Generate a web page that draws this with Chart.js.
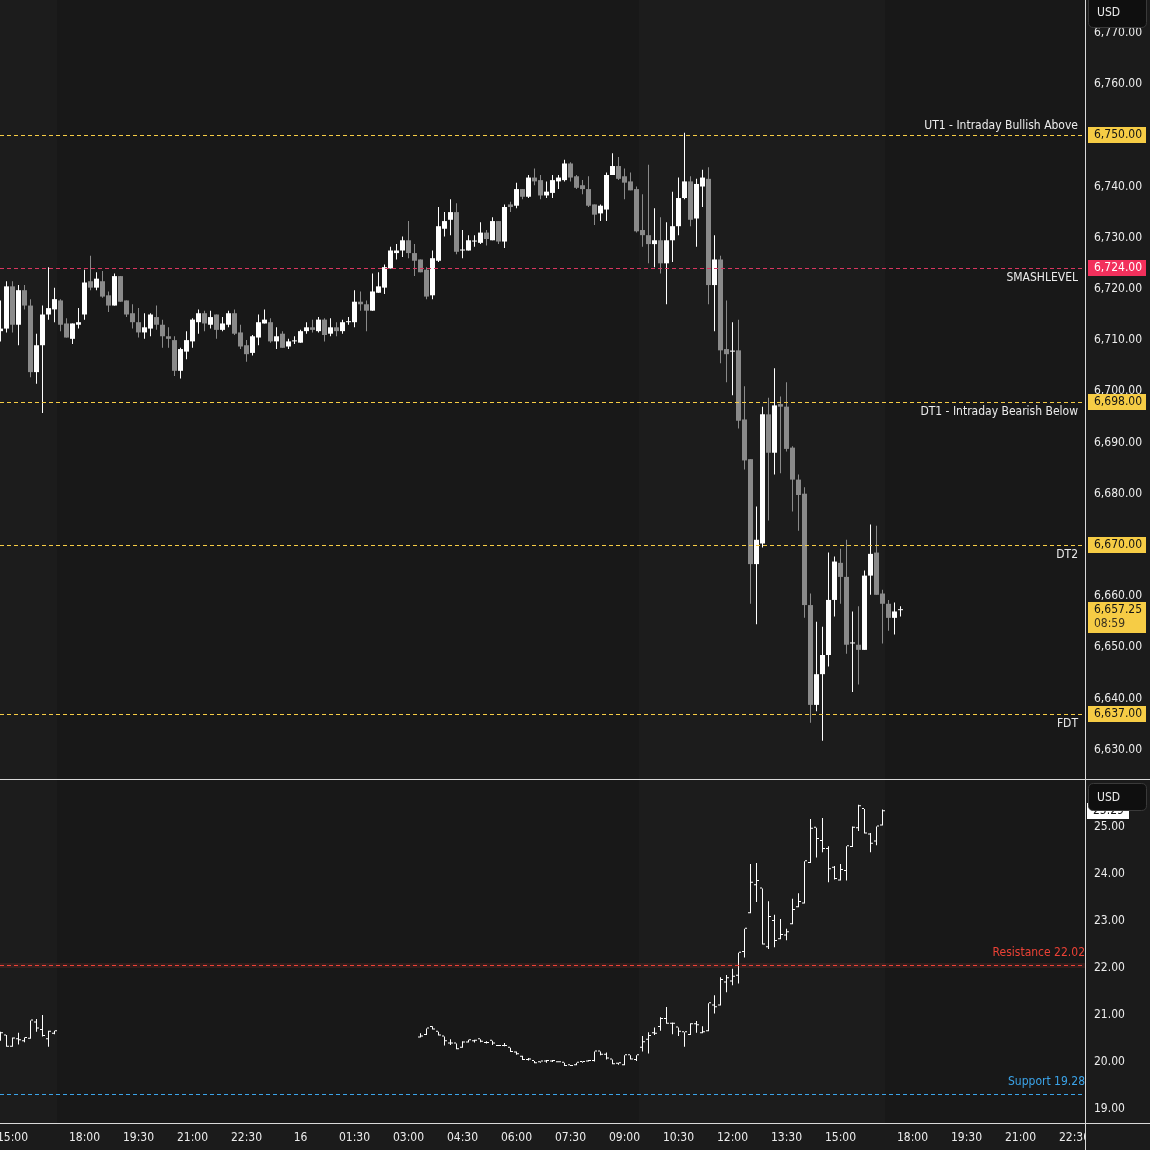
<!DOCTYPE html>
<html>
<head>
<meta charset="utf-8">
<script src="https://cdn.jsdelivr.net/npm/chart.js@4.4.1/dist/chart.umd.min.js"></script>
<style>
  html, body { margin:0; padding:0; background:#181818; }
  body { width:1150px; height:1150px; position:relative; overflow:hidden; }
  #pTop { position:absolute; left:0; top:0; }
  #pBot { position:absolute; left:0; top:780px; }
</style>
</head>
<body>
<canvas id="pTop" width="1150" height="780"></canvas>
<canvas id="pBot" width="1150" height="370"></canvas>
<script>
// ---------------- DATA ----------------
// 10-minute ES bars; first bar sits in time slot -2 (slot 0 = 15:00, slot 12 = 18:00 after the break)
const ES_FIRST_SLOT = -2;
const esOpen = [
 6711.75,6712.25,6720.5,6713.0,6719.75,6716.75,6703.75,6709.0,6715.0,6716.0,
 6717.75,6713.25,6710.25,6713.0,6715.0,6721.5,6720.25,6721.5,6718.75,6716.75,
 6722.5,6717.75,6715.25,6713.5,6711.5,6712.25,6714.5,6713.0,6710.75,6710.0,
 6704.0,6707.75,6709.75,6713.5,6715.25,6713.0,6715.0,6712.0,6713.0,6715.25,
 6711.5,6709.0,6707.5,6710.5,6713.25,6713.5,6709.75,6711.25,6708.75,6709.75,
 6709.5,6711.75,6712.5,6711.75,6714.0,6711.25,6712.5,6711.75,6713.5,6713.5,
 6717.5,6717.0,6715.75,6719.25,6720.25,6724.0,6727.0,6727.5,6729.5,6727.0,
 6725.75,6723.75,6718.75,6725.5,6731.75,6733.5,6735.0,6727.5,6727.5,6729.25,
 6729.0,6731.0,6729.5,6733.25,6729.25,6736.5,6736.25,6739.5,6738.0,6741.75,
 6741.25,6738.25,6738.75,6741.0,6741.25,6744.5,6742.0,6740.25,6739.5,6736.5,
 6734.75,6735.5,6742.25,6744.0,6742.0,6741.0,6739.5,6731.5,6730.5,6728.75,
 6729.5,6725.0,6729.5,6732.25,6737.75,6741.0,6733.75,6740.0,6741.5,6720.75,
 6725.75,6708.25,6707.75,6708.0,6694.5,6686.75,6666.25,6670.25,6695.5,6688.0,
 6697.5,6697.0,6689.0,6682.75,6680.0,6658.25,6638.75,6644.75,6648.5,6659.25,
 6666.5,6663.75,6650.75,6650.5,6649.5,6664.0,6668.5,6660.5,6658.5,6655.75,
 6657.25];
const esHigh = [
 6717.75,6721.5,6721.5,6720.75,6720.75,6718.0,6711.25,6716.75,6724.25,6720.25,
 6718.0,6714.25,6713.25,6716.25,6723.75,6726.5,6723.25,6723.5,6719.5,6723.0,
 6722.5,6717.75,6717.0,6716.25,6715.25,6715.25,6716.75,6714.0,6712.5,6710.75,
 6708.5,6711.75,6714.25,6716.0,6715.75,6715.75,6715.0,6714.5,6715.75,6716.0,
 6713.0,6710.0,6711.0,6715.0,6716.0,6714.25,6712.5,6711.75,6710.25,6710.75,
 6712.0,6713.5,6714.0,6714.5,6714.25,6714.25,6713.5,6714.0,6714.5,6719.75,
 6719.5,6717.75,6723.0,6723.25,6724.75,6728.25,6728.75,6730.25,6733.25,6728.75,
 6725.75,6724.25,6727.5,6736.0,6735.0,6737.5,6736.75,6731.5,6730.5,6730.5,
 6733.0,6731.5,6734.0,6733.25,6736.5,6737.0,6740.75,6739.5,6742.25,6743.5,
 6742.25,6741.0,6742.25,6742.25,6745.25,6744.75,6742.25,6741.25,6742.0,6736.5,
 6736.5,6742.75,6746.5,6745.75,6743.5,6742.75,6740.0,6738.5,6744.25,6735.75,
 6734.0,6733.0,6739.0,6741.75,6750.5,6742.0,6741.5,6743.25,6743.75,6730.5,
 6726.5,6717.75,6713.5,6714.0,6701.0,6686.75,6677.5,6697.0,6698.75,6704.5,
 6699.0,6701.75,6689.25,6683.75,6681.25,6660.5,6655.0,6654.0,6668.5,6667.75,
 6669.25,6671.0,6657.0,6658.0,6665.0,6674.0,6673.75,6661.25,6659.25,6658.75,
 6658.0];
const esLow = [
 6709.75,6711.5,6711.5,6709.0,6716.0,6702.75,6701.5,6695.75,6714.0,6713.5,
 6711.75,6710.5,6709.25,6712.25,6714.0,6719.75,6719.75,6718.25,6715.5,6716.75,
 6717.5,6714.5,6712.25,6710.5,6710.25,6710.75,6712.0,6708.5,6708.5,6703.0,
 6702.5,6706.25,6708.5,6711.25,6711.75,6712.25,6710.25,6711.75,6712.5,6711.0,
 6708.25,6705.75,6707.0,6709.0,6713.25,6709.5,6708.25,6708.5,6708.25,6709.25,
 6709.5,6711.25,6711.5,6711.5,6709.75,6710.75,6710.75,6711.25,6713.0,6712.5,
 6715.75,6711.75,6715.75,6719.25,6719.0,6724.0,6725.75,6726.25,6726.0,6722.5,
 6723.25,6718.0,6718.0,6725.25,6730.25,6730.5,6726.75,6726.0,6727.5,6728.25,
 6728.75,6728.5,6729.5,6728.75,6728.0,6735.0,6735.75,6737.5,6737.75,6740.25,
 6737.5,6737.75,6737.75,6739.5,6741.0,6741.0,6739.5,6738.5,6736.0,6732.5,
 6733.25,6733.25,6742.25,6741.25,6737.5,6739.25,6731.0,6728.25,6725.0,6724.25,
 6723.0,6717.0,6725.25,6730.5,6737.5,6732.25,6728.25,6736.0,6717.0,6711.75,
 6705.5,6701.75,6699.25,6692.75,6684.75,6658.5,6654.5,6669.5,6674.75,6683.75,
 6684.0,6688.25,6676.5,6672.75,6655.75,6635.25,6637.5,6631.75,6646.25,6656.0,
 6658.5,6648.75,6641.25,6642.75,6649.5,6660.25,6660.25,6650.75,6653.25,6652.5,
 6656.0];
const esClose = [
 6712.25,6720.5,6713.0,6719.75,6716.75,6703.75,6709.0,6715.0,6716.25,6718.0,
 6713.0,6710.5,6713.25,6713.5,6721.25,6720.25,6722.0,6718.5,6716.75,6722.5,
 6717.5,6715.0,6713.5,6711.5,6712.5,6715.0,6713.0,6710.75,6710.25,6704.0,
 6708.25,6710.0,6714.0,6715.25,6713.25,6714.5,6712.0,6713.25,6715.25,6711.25,
 6708.75,6707.25,6710.75,6713.5,6714.0,6709.75,6710.75,6708.5,6709.75,6709.75,
 6711.75,6712.5,6712.0,6714.0,6711.0,6712.5,6711.75,6713.5,6713.5,6717.5,
 6717.0,6715.75,6719.5,6720.5,6724.25,6727.5,6727.5,6729.5,6727.0,6725.5,
 6723.25,6718.5,6726.0,6732.25,6733.25,6735.0,6727.25,6727.5,6729.5,6729.25,
 6731.0,6729.75,6733.25,6729.25,6736.0,6736.0,6739.5,6738.0,6741.75,6741.0,
 6738.25,6739.0,6741.25,6741.75,6744.5,6741.75,6739.75,6739.5,6736.25,6734.5,
 6736.25,6742.25,6744.0,6741.5,6740.75,6739.25,6731.25,6730.5,6728.75,6729.5,
 6725.0,6729.5,6732.25,6737.75,6741.0,6733.5,6740.5,6741.75,6720.75,6725.75,
 6708.0,6707.25,6707.75,6694.25,6686.5,6666.25,6671.0,6695.5,6688.0,6697.25,
 6697.0,6688.75,6682.75,6679.75,6658.25,6638.75,6644.75,6648.5,6659.25,6666.75,
 6663.75,6650.5,6650.75,6649.5,6664.0,6668.25,6660.25,6658.5,6655.75,6657.0,
 6657.25];

// VIX 10-minute bars: two runs of slots [first slot, bar count]
const VIX_RUNS = [[-2, 10], [68, 78]];
const vixOpen = [
 20.58,20.52,20.28,20.44,20.40,20.45,20.80,20.64,20.44,20.56,
 20.48,20.53,20.70,20.60,20.50,20.35,20.35,20.26,20.37,20.40,
 20.44,20.36,20.41,20.30,20.30,20.26,20.16,20.07,20.00,19.98,
 19.95,19.97,19.97,19.95,19.94,19.89,19.89,19.96,19.97,19.98,
 20.18,20.11,20.01,19.92,19.89,20.10,20.00,20.26,20.43,20.57,
 20.70,20.87,20.77,20.69,20.59,20.53,20.76,20.57,20.61,21.16,
 21.16,21.65,21.67,21.79,22.30,23.12,23.72,23.65,22.40,22.96,
 22.57,22.65,22.89,23.25,23.33,24.19,24.94,24.66,24.49,24.09,
 23.82,24.02,24.53,24.93,25.34,24.80,24.65,24.99];
const vixHigh = [
 20.60,20.53,20.48,20.58,20.48,20.84,20.87,20.96,20.62,20.62,
 20.57,20.67,20.72,20.60,20.50,20.44,20.35,20.40,20.43,20.43,
 20.44,20.40,20.41,20.30,20.36,20.26,20.18,20.09,20.04,19.98,
 19.97,20.00,20.00,19.95,19.94,19.89,19.94,19.97,20.00,20.18,
 20.18,20.16,20.01,19.94,20.10,20.10,20.10,20.51,20.59,20.69,
 20.91,21.13,20.80,20.69,20.59,20.78,20.83,20.72,21.21,21.38,
 21.76,21.81,21.94,22.28,22.79,24.17,24.19,23.65,23.38,23.09,
 23.00,22.79,23.43,23.55,24.23,25.13,24.94,25.15,24.55,24.13,
 24.17,24.55,24.97,25.43,25.34,24.83,24.97,25.33];
const vixLow = [
 20.41,20.28,20.28,20.33,20.38,20.45,20.60,20.50,20.28,20.55,
 20.48,20.53,20.65,20.52,20.31,20.32,20.23,20.26,20.37,20.37,
 20.38,20.35,20.32,20.30,20.29,20.17,20.11,20.00,19.99,19.93,
 19.94,19.94,19.96,19.95,19.87,19.87,19.89,19.94,19.97,19.97,
 20.10,20.01,19.91,19.90,19.89,20.01,19.98,20.18,20.14,20.53,
 20.62,20.77,20.55,20.51,20.28,20.53,20.58,20.57,20.61,20.99,
 21.16,21.44,21.59,21.63,22.18,23.12,23.36,22.46,22.36,22.40,
 22.57,22.55,22.89,23.25,23.33,24.19,24.31,24.42,23.78,23.84,
 23.82,23.82,24.53,24.87,24.82,24.42,24.57,24.99];
const vixClose = [
 20.57,20.28,20.46,20.42,20.47,20.84,20.67,20.51,20.60,20.61,
 20.50,20.67,20.65,20.52,20.40,20.35,20.23,20.37,20.42,20.41,
 20.39,20.36,20.35,20.30,20.30,20.17,20.12,20.00,20.01,19.93,
 19.97,19.98,19.98,19.95,19.87,19.87,19.94,19.96,19.98,20.18,
 20.11,20.03,19.91,19.93,20.10,20.01,20.10,20.38,20.51,20.56,
 20.87,20.77,20.77,20.60,20.59,20.76,20.74,20.59,21.21,21.12,
 21.70,21.74,21.77,22.28,22.79,23.77,23.81,22.46,23.04,22.53,
 22.66,22.72,23.19,23.36,24.23,24.92,24.70,24.49,24.06,23.85,
 24.04,24.55,24.94,25.40,24.82,24.60,24.97,25.29];

// time axis
const timeLabels = ['15:00','18:00','19:30','21:00','22:30','16','01:30','03:00','04:30','06:00',
                    '07:30','09:00','10:30','12:00','13:30','15:00','18:00','19:30','21:00','22:30'];
const timeSlots  = [0,12,21,30,39,48,57,66,75,84,93,102,111,120,129,138,150,159,168,177];
// regular-session shading, in slots
const rthSessions = [[-10, 7.5], [104.5, 145.5]];

// price levels (top pane)
const levelPrices = [6750, 6724, 6698, 6670, 6637];
const levelNames  = ['UT1 - Intraday Bullish Above', 'SMASHLEVEL', 'DT1 - Intraday Bearish Below', 'DT2', 'FDT'];
const lastPrice = 6657.25;
const countdown = '08:59';
// lower pane levels
const vixLevelValues = [22.02, 19.28];
const vixLevelNames  = ['Resistance 22.02', 'Support 19.28'];
const vixLast = 25.29;

// ---------------- STYLE ----------------
const FONT_FAMILY = '"DejaVu Sans Condensed", "Liberation Sans", Arial, sans-serif';
const FONT = '12px ' + FONT_FAMILY;
const AXIS_BG = '#1b1b1b', PANE_BG = '#181818', RTH_BG = '#1c1c1c';
const UP = '#ffffff', DOWN = '#8a8a8a';
const LINE = '#d9d9d9', TEXT = '#ececec';
const YEL = '#f6cc45', PINK = '#f2305c';
const levelColors = [YEL, '#d8365f', YEL, YEL, YEL];
const levelBoxColors = [YEL, PINK, YEL, YEL, YEL];
const levelBoxText = ['#141414', '#ffffff', '#141414', '#141414', '#141414'];
const levelLabelAbove = [true, false, false, false, false];
const vixLevelColors = ['#ec4236', '#3ba3e8'];
const X_MIN = -12.5 / 6, X_MAX = (1085 - 12.5) / 6;

Chart.defaults.font.family = FONT_FAMILY;
Chart.defaults.font.size = 12;

const fmt = v => Number(v).toLocaleString('en-US', {minimumFractionDigits: 2, maximumFractionDigits: 2});

function paintBackground(chart) {
  const {ctx, chartArea: a, scales: {x}} = chart;
  ctx.save();
  ctx.fillStyle = AXIS_BG; ctx.fillRect(0, 0, chart.width, chart.height);
  ctx.fillStyle = PANE_BG; ctx.fillRect(a.left, a.top, a.right - a.left, a.bottom - a.top);
  ctx.fillStyle = RTH_BG;
  rthSessions.forEach(([s, e]) => {
    const x0 = Math.max(a.left, Math.floor(x.getPixelForValue(s)));
    const x1 = Math.min(a.right, Math.floor(x.getPixelForValue(e)));
    if (x1 > x0) ctx.fillRect(x0, a.top, x1 - x0, a.bottom - a.top);
  });
  ctx.restore();
}
function roundRect(ctx, x, y, w, h, r) {
  ctx.beginPath();
  ctx.moveTo(x + r, y); ctx.lineTo(x + w - r, y); ctx.quadraticCurveTo(x + w, y, x + w, y + r);
  ctx.lineTo(x + w, y + h - r); ctx.quadraticCurveTo(x + w, y + h, x + w - r, y + h);
  ctx.lineTo(x + r, y + h); ctx.quadraticCurveTo(x, y + h, x, y + h - r);
  ctx.lineTo(x, y + r); ctx.quadraticCurveTo(x, y, x + r, y); ctx.closePath();
}
function badge(ctx, y0, y1, ty) {
  ctx.save();
  roundRect(ctx, 1088.5, y0, 58, y1 - y0, 5);
  ctx.fillStyle = '#0f0f0f'; ctx.fill();
  ctx.strokeStyle = '#3a3a3a'; ctx.lineWidth = 1; ctx.stroke();
  ctx.fillStyle = TEXT; ctx.font = FONT; ctx.textAlign = 'left'; ctx.textBaseline = 'middle';
  ctx.fillText('USD', 1097, ty);
  ctx.restore();
}
function fitY(s) { s.width = 65; s.paddingTop = 0; s.paddingBottom = 0; s.paddingLeft = 0; s.paddingRight = 0; }

// ---------------- TOP PANE ----------------
const esSlots = esOpen.map((_, k) => ES_FIRST_SLOT + k);
const esColors = esOpen.map((o, k) => esClose[k] >= o ? UP : DOWN);

const topPlugin = {
  id: 'topDeco',
  beforeDraw: paintBackground,
  afterDatasetsDraw(chart) {
    const {ctx, chartArea: a, scales: {y}} = chart;
    ctx.save();
    levelPrices.forEach((p, k) => {
      const py = Math.round(y.getPixelForValue(p)) + 0.5;
      ctx.strokeStyle = levelColors[k]; ctx.lineWidth = 1; ctx.setLineDash([4, 3]);
      ctx.beginPath(); ctx.moveTo(a.left, py); ctx.lineTo(a.right, py); ctx.stroke();
      ctx.setLineDash([]);
      ctx.fillStyle = TEXT; ctx.font = FONT; ctx.textAlign = 'right'; ctx.textBaseline = 'middle';
      ctx.fillText(levelNames[k], 1078, levelLabelAbove[k] ? py - 9.5 : py + 9.5);
    });
    ctx.restore();
  },
  afterDraw(chart) {
    const {ctx, scales: {y}} = chart;
    ctx.save();
    ctx.font = FONT; ctx.textAlign = 'left'; ctx.textBaseline = 'middle';
    levelPrices.forEach((p, k) => {
      const py = Math.round(y.getPixelForValue(p));
      ctx.fillStyle = levelBoxColors[k]; ctx.fillRect(1088, py - 8, 58, 16);
      ctx.fillStyle = levelBoxText[k]; ctx.fillText(fmt(p), 1094, py);
    });
    const ly = Math.round(y.getPixelForValue(lastPrice));
    ctx.fillStyle = YEL; ctx.fillRect(1088, ly - 8, 58, 31);
    ctx.fillStyle = '#141414'; ctx.fillText(fmt(lastPrice), 1094, ly);
    ctx.fillStyle = '#3a3220'; ctx.fillText(countdown, 1094, ly + 14);
    // borders
    ctx.fillStyle = LINE;
    ctx.fillRect(1085, 0, 1, chart.height);
    ctx.fillRect(0, chart.height - 1, chart.width, 1);
    ctx.restore();
    badge(ctx, -5.5, 27.5, 13);
  }
};

new Chart(document.getElementById('pTop'), {
  type: 'bar',
  data: {
    datasets: [
      { label: 'body', data: esSlots.map((s, k) => ({x: s, y: [esOpen[k], esClose[k]]})),
        backgroundColor: esColors, barThickness: 5, minBarLength: 1, grouped: false, inflateAmount: 0, borderWidth: 0 },
      { label: 'wick', data: esSlots.map((s, k) => ({x: s, y: [esLow[k], esHigh[k]]})),
        backgroundColor: esColors, barThickness: 1, minBarLength: 1, grouped: false, inflateAmount: 0, borderWidth: 0 }
    ]
  },
  options: {
    responsive: false, animation: false, devicePixelRatio: 1,
    layout: { padding: 0 },
    plugins: { legend: { display: false }, tooltip: { enabled: false } },
    scales: {
      x: { type: 'linear', display: false, min: X_MIN, max: X_MAX, offset: false },
      y: { type: 'linear', position: 'right', min: 6624.08, max: 6776.43, beginAtZero: false,
           afterFit: fitY,
           grid: { display: false, drawTicks: false }, border: { display: false },
           ticks: { stepSize: 10, includeBounds: false, padding: 9, color: TEXT, font: { size: 12 },
                    callback: v => fmt(v) } }
    }
  },
  plugins: [topPlugin]
});

// ---------------- BOTTOM PANE ----------------
const vixSlots = [];
VIX_RUNS.forEach(([s, n]) => { for (let k = 0; k < n; k++) vixSlots.push(s + k); });

const botPlugin = {
  id: 'botDeco',
  beforeDraw: paintBackground,
  afterDatasetsDraw(chart) {
    const {ctx, chartArea: a, scales: {y}} = chart;
    ctx.save();
    vixLevelValues.forEach((v, k) => {
      const py = Math.round(y.getPixelForValue(v)) + 0.5;
      if (k === 0) { ctx.fillStyle = 'rgba(232,68,58,0.13)'; ctx.fillRect(a.left, py - 2.5, a.right - a.left, 5); }
      ctx.strokeStyle = vixLevelColors[k]; ctx.lineWidth = 1; ctx.setLineDash([4, 3]);
      ctx.beginPath(); ctx.moveTo(a.left, py); ctx.lineTo(a.right, py); ctx.stroke();
      ctx.setLineDash([]);
      ctx.fillStyle = vixLevelColors[k]; ctx.font = FONT; ctx.textAlign = 'right'; ctx.textBaseline = 'middle';
      ctx.fillText(vixLevelNames[k], 1085, py - 13);
    });
    ctx.restore();
  },
  afterDraw(chart) {
    const {ctx, chartArea: a, scales: {y}} = chart;
    ctx.save();
    ctx.fillStyle = AXIS_BG; ctx.fillRect(1086, a.bottom, 64, chart.height - a.bottom);
    const vy = Math.round(y.getPixelForValue(vixLast));
    ctx.fillStyle = '#ffffff'; ctx.fillRect(1087, vy - 8, 42, 16);
    ctx.fillStyle = '#141414'; ctx.font = FONT; ctx.textAlign = 'left'; ctx.textBaseline = 'middle';
    ctx.fillText(fmt(vixLast), 1093, vy);
    ctx.fillStyle = LINE;
    ctx.fillRect(1085, 0, 1, chart.height);
    ctx.fillRect(0, a.bottom, chart.width, 1);
    ctx.restore();
    badge(ctx, 3.5, 30.5, 18);
  }
};

const tick = { barThickness: 2, minBarLength: 1, grouped: false, inflateAmount: 0, borderWidth: 0, backgroundColor: '#ffffff' };
new Chart(document.getElementById('pBot'), {
  type: 'bar',
  data: {
    datasets: [
      Object.assign({ label: 'range', data: vixSlots.map((s, k) => ({x: s, y: [vixLow[k], vixHigh[k]]})) },
                    tick, { barThickness: 1 }),
      Object.assign({ label: 'open', data: vixSlots.map((s, k) => ({x: s - 0.25, y: [vixOpen[k], vixOpen[k]]})) }, tick),
      Object.assign({ label: 'close', data: vixSlots.map((s, k) => ({x: s + 0.25, y: [vixClose[k], vixClose[k]]})) }, tick)
    ]
  },
  options: {
    responsive: false, animation: false, devicePixelRatio: 1,
    layout: { padding: 0 },
    plugins: { legend: { display: false }, tooltip: { enabled: false } },
    scales: {
      x: { type: 'linear', min: X_MIN, max: X_MAX, offset: false,
           afterBuildTicks: s => { s.ticks = timeSlots.map(v => ({value: v})); },
           afterFit: s => { s.height = 27; s.paddingLeft = 0; s.paddingRight = 0; s.paddingTop = 0; s.paddingBottom = 0; },
           grid: { display: false, drawTicks: false }, border: { display: false },
           ticks: { autoSkip: false, maxRotation: 0, minRotation: 0, padding: 8, color: TEXT, font: { size: 12 },
                    callback: (v, i) => timeLabels[i] } },
      y: { type: 'linear', position: 'right', min: 18.6596, max: 25.9574, beginAtZero: false,
           afterFit: fitY,
           grid: { display: false, drawTicks: false }, border: { display: false },
           ticks: { stepSize: 1, includeBounds: false, padding: 9, labelOffset: 2, color: TEXT, font: { size: 12 },
                    callback: v => fmt(v) } }
    }
  },
  plugins: [botPlugin]
});
</script>
</body>
</html>
